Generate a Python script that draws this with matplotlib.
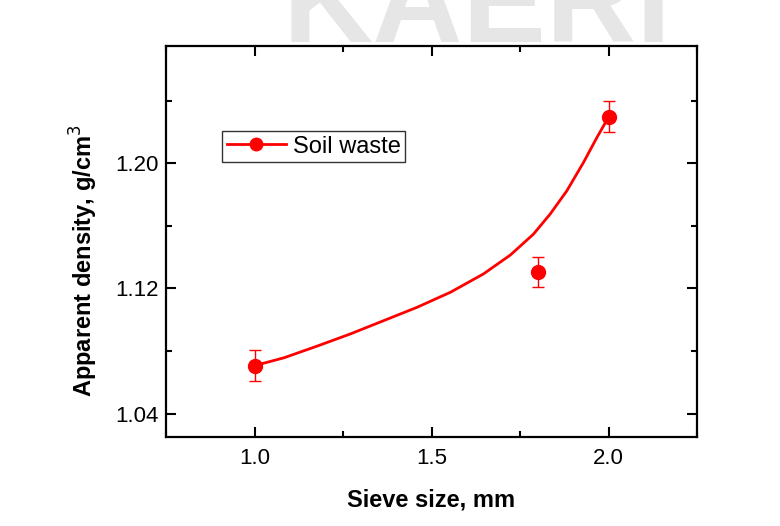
import numpy as np
import matplotlib
matplotlib.use("Agg")
import matplotlib.pyplot as plt
from matplotlib.ticker import MultipleLocator
from matplotlib.lines import Line2D

plt.rcParams['font.family'] = ['Liberation Sans', 'DejaVu Sans']

# ================== DATA ==================
sieve = [1.0, 1.8, 2.0]
density = [1.0706, 1.1305, 1.2299]
density_err = [0.0098, 0.0098, 0.0098]

# fitted curve, points
fit_x = [1.0, 1.084, 1.178, 1.272, 1.366, 1.460, 1.554, 1.647, 1.723, 1.788,
         1.835, 1.882, 1.929, 1.967, 1.99, 2.0]
fit_y = [1.0706, 1.0757, 1.0832, 1.0910, 1.0995, 1.1080, 1.1176, 1.1293, 1.1414, 1.1547,
         1.1675, 1.1823, 1.2004, 1.2164, 1.2255, 1.2299]

series_label = "Soil waste"

# ================== FIGURE ==================
fig = plt.figure(figsize=(7.8, 5.26), dpi=100)
# faint watermark at the top
fig.text(0.612, 1 - 42 / 526, "KAERI", fontsize=90, fontweight='bold',
         color='#e6e6e6', ha='center', va='baseline', zorder=0)

ax = fig.add_axes([166 / 780, 1 - 437 / 526, 531 / 780, 391 / 526])
ax.patch.set_alpha(0)

ax.plot(fit_x, fit_y, '-', color='red', linewidth=2.0, solid_joinstyle='round')
ax.errorbar(sieve, density, yerr=density_err, fmt='o', color='red',
            markersize=10, elinewidth=1, capsize=4.5, capthick=1)

# legend: line with marker in the middle
proxy = Line2D([], [], color='red', linewidth=2.0, marker='o', markersize=9)
leg = ax.legend([proxy], [series_label], loc='upper left',
                bbox_to_anchor=((222 - 166) / 531, 1 - (131 - 46) / 391), fontsize=17,
                frameon=True, fancybox=False, edgecolor='black',
                handlelength=2.5, handletextpad=0.3, borderpad=0.2,
                borderaxespad=0)
leg.get_frame().set_linewidth(1.0)

ax.set_xlim(0.75, 2.25)
ax.set_ylim(1.025, 1.275)
ax.xaxis.set_major_locator(MultipleLocator(0.5))
ax.xaxis.set_minor_locator(MultipleLocator(0.25))
ax.yaxis.set_major_locator(MultipleLocator(0.08))
ax.yaxis.set_minor_locator(MultipleLocator(0.04))
ax.xaxis.set_major_formatter(plt.FormatStrFormatter('%.1f'))
ax.yaxis.set_major_formatter(plt.FormatStrFormatter('%.2f'))

ax.tick_params(which='both', direction='in', top=True, right=True, width=1.5)
ax.tick_params(which='major', length=7, labelsize=16)
ax.tick_params(axis='x', which='major', pad=8)
ax.tick_params(axis='y', which='major', pad=5.5)
ax.tick_params(which='minor', length=4)
for s in ax.spines.values():
    s.set_linewidth(1.6)

ax.set_xlabel("Sieve size, mm", fontsize=17, fontweight='bold', labelpad=14)
ax.set_ylabel("Apparent density, g/cm$^3$", fontsize=17, fontweight='bold')
ax.yaxis.set_label_coords(-0.124, 0.45)

fig.savefig("out.png", dpi=100)
